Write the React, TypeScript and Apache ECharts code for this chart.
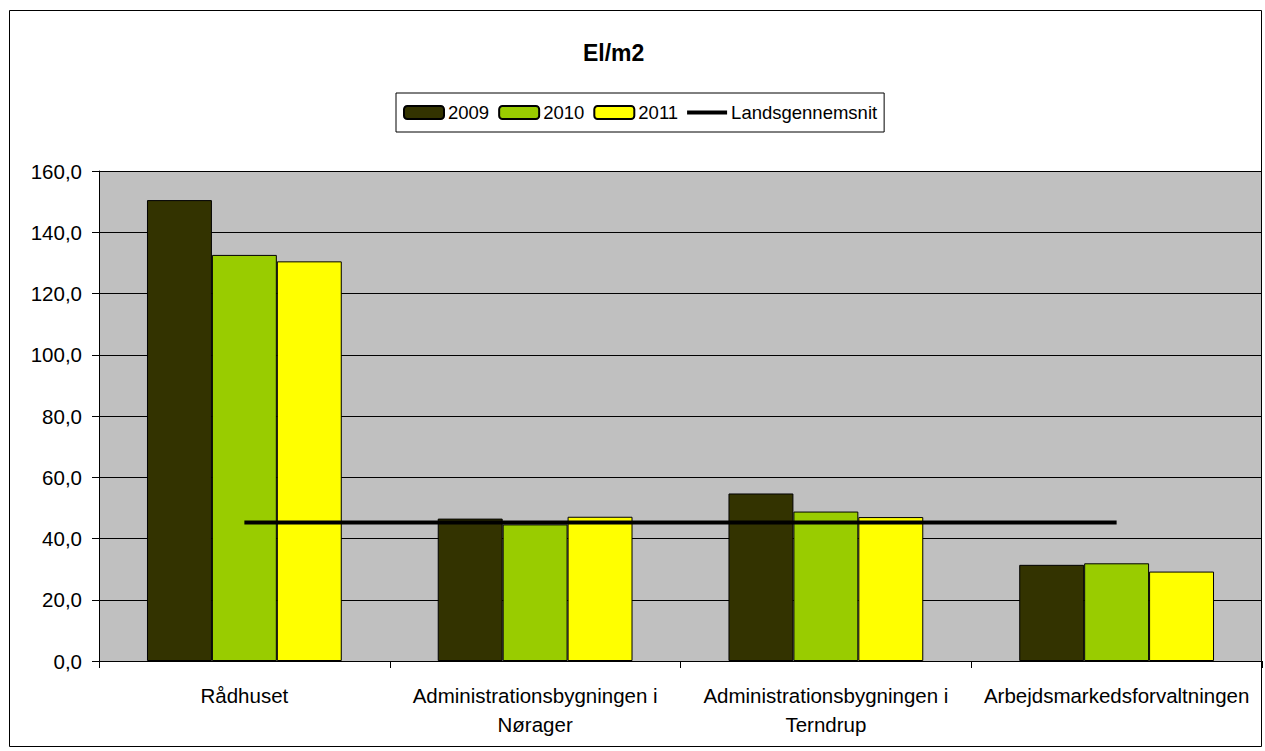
import React, { useEffect, useRef } from "react";
import * as echarts from "echarts";

const categories = [
  "Rådhuset",
  "Administrationsbygningen i\nNørager",
  "Administrationsbygningen i\nTerndrup",
  "Arbejdsmarkedsforvaltningen",
];
const values2009 = [150.5, 46.5, 54.7, 31.4];
const values2010 = [132.6, 44.6, 48.8, 31.9];
const values2011 = [130.5, 47.1, 47.0, 29.2];
const landsgennemsnit = [45.2, 45.2, 45.2, 45.2];

const FONT = "Liberation Sans, Arial, sans-serif";
const LINE_ICON =
  "path://M0 0 L40 0 L40 0.001 Z M0 4.5 L40 4.5 L40 8.5 L0 8.5 Z M0 13 L40 13 L40 13.001 Z";

export default function App() {
  const ref = useRef<HTMLDivElement>(null);
  useEffect(() => {
    if (!ref.current) return;
    const chart = echarts.init(ref.current, undefined, { renderer: "svg" });
    const barStyle = (color: string) => ({
      color,
      borderColor: "#000",
      borderWidth: 1,
    });
    chart.setOption({
      animation: false,
      backgroundColor: "#fff",
      textStyle: { fontFamily: FONT, color: "#000" },
      title: {
        text: "El/m2",
        left: 578,
        top: 36,
        textStyle: { fontFamily: FONT, fontSize: 23, fontWeight: "bold", color: "#000" },
      },
      legend: {
        left: 396,
        top: 93,
        padding: [10, 7, 10, 7],
        itemWidth: 40,
        itemHeight: 13,
        itemGap: 9,
        borderColor: "#000",
        borderWidth: 1,
        backgroundColor: "#fff",
        textStyle: { fontFamily: FONT, fontSize: 18.5, color: "#000", padding: [0, 0, 0, -1] },
        data: [
          { name: "2009" },
          { name: "2010" },
          { name: "2011" },
          { name: "Landsgennemsnit", icon: LINE_ICON, itemStyle: { color: "#000", borderWidth: 0 } },
        ],
      },
      grid: { left: 99, right: 3, top: 171, bottom: 90, containLabel: false, show: true, backgroundColor: "#C0C0C0", borderWidth: 0 },
      xAxis: {
        type: "category",
        data: categories,
        axisLine: { lineStyle: { color: "#000", width: 1 } },
        axisTick: { show: true, length: 7, lineStyle: { color: "#000" } },
        axisLabel: {
          fontFamily: FONT,
          fontSize: 20.5,
          color: "#000",
          margin: 20,
          lineHeight: 29,
          interval: 0,
        },
      },
      yAxis: {
        type: "value",
        min: 0,
        max: 160,
        interval: 20,
        axisLine: { show: true, lineStyle: { color: "#000", width: 1 } },
        axisTick: { show: true, length: 7, lineStyle: { color: "#000" } },
        splitLine: { show: true, lineStyle: { color: "#000", width: 1 } },
        axisLabel: {
          fontFamily: FONT,
          fontSize: 20.5,
          color: "#000",
          margin: 17,
          formatter: (v: number) => v.toFixed(1).replace(".", ","),
        },
      },
      series: [
        { name: "2009", type: "bar", data: values2009, itemStyle: barStyle("#333300"), barGap: "0%", barCategoryGap: "33%" },
        { name: "2010", type: "bar", data: values2010, itemStyle: barStyle("#99CC00") },
        { name: "2011", type: "bar", data: values2011, itemStyle: barStyle("#FFFF00") },
        {
          name: "Landsgennemsnit",
          type: "line",
          data: landsgennemsnit,
          symbol: "none",
          showSymbol: false,
          lineStyle: { color: "#000", width: 4 },
          itemStyle: { color: "#000" },
          z: 5,
        },
      ],
      graphic: [
        {
          type: "rect",
          shape: { x: 9.5, y: 10.5, width: 1252, height: 736 },
          style: { fill: "none", stroke: "#000", lineWidth: 1 },
          silent: true,
          z: 100,
        },
      ],
    });
    return () => chart.dispose();
  }, []);
  return (
    <div
      ref={ref}
      style={{ position: "fixed", left: 0, top: 0, width: 1265, height: 751 }}
    />
  );
}
